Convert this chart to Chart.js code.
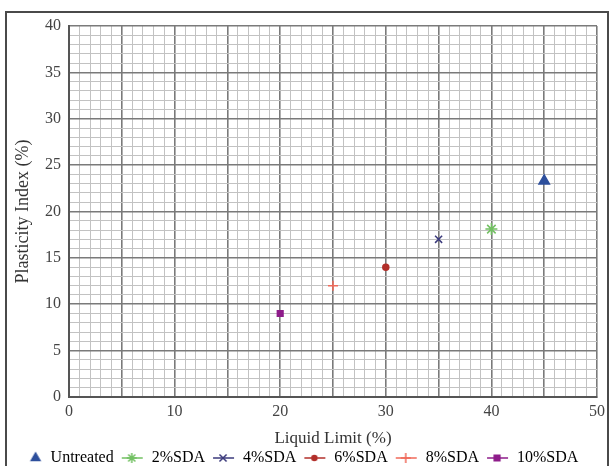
<!DOCTYPE html>
<html>
<head>
<meta charset="utf-8">
<script src="https://cdn.jsdelivr.net/npm/chart.js@4"></script>
<style>
  html, body { margin: 0; padding: 0; background: #fff; }
  #wrap { position: relative; width: 616px; height: 466px; overflow: hidden; }
  #frame { position: absolute; left: 5px; top: 11px; width: 604px; height: 470px; border: 2px solid #4a4a4a; box-sizing: border-box; pointer-events: none; }
  canvas { position: absolute; left: 0; top: 0; }
</style>
</head>
<body>
<div id="wrap">
  <canvas id="chart" width="616" height="466"></canvas>
  <div id="frame"></div>
</div>
<script>
// data
const seriesNames = ['Untreated', '2%SDA', '4%SDA', '6%SDA', '8%SDA', '10%SDA'];
const liquidLimit = [45, 40, 35, 30, 25, 20];
const plasticityIndex = [23.3, 18.1, 17.0, 14.0, 12.0, 9.0];
const xTickLabels = [0, 10, 20, 30, 40, 50];
const yTickLabels = [0, 5, 10, 15, 20, 25, 30, 35, 40];

const colors = ['#2d4f9c', '#72c062', '#3b3a7c', '#b22f2a', '#f06a5a', '#8e1c8a'];
const styles = ['triangle', 'star', 'crossRot', 'circle', 'cross', 'rect'];
const radii = [6, 6, 5, 3, 5, 4];
const withLine = [false, true, true, true, true, true];

const FONT = '"Liberation Serif", "DejaVu Serif", serif';
const ICON_W = 24;

// legend icons: short line + marker
function makeIcon(i) {
    const c = document.createElement('canvas');
    c.width = ICON_W; c.height = 16;
    const g = c.getContext('2d');
    g.strokeStyle = colors[i];
    g.fillStyle = colors[i];
    g.lineWidth = 1.5;
    if (withLine[i]) {
        g.beginPath(); g.moveTo(2, 8); g.lineTo(23, 8); g.stroke();
    }
    const r = styles[i] === 'circle' ? 2.5 : Math.min(radii[i], 5);
    Chart.helpers.drawPoint(g, { pointStyle: styles[i], radius: r, borderWidth: 1.5 }, withLine[i] ? 12 : 17, 8);
    return c;
}

const datasets = seriesNames.map((name, i) => ({
    label: name,
    data: [{ x: liquidLimit[i], y: plasticityIndex[i] }],
    pointStyle: styles[i],
    pointRadius: radii[i],
    pointBorderWidth: 1.5,
    backgroundColor: colors[i],
    borderColor: colors[i],
    showLine: false
}));

const gridColor = (ctx) => {
    const v = ctx.tick ? ctx.tick.value : 0;
    return v % 5 === 0 ? '#7a7a7a' : '#c2c2c2';
};
const gridWidth = (ctx) => {
    const v = ctx.tick ? ctx.tick.value : 0;
    return v % 5 === 0 ? 1.6 : 1;
};

new Chart(document.getElementById('chart').getContext('2d'), {
    type: 'scatter',
    data: { datasets },
    options: {
        responsive: false,
        animation: false,
        layout: { padding: { top: 26, right: 19, left: 0, bottom: -10 } },
        plugins: {
            tooltip: { enabled: false },
            legend: {
                position: 'bottom',
                labels: {
                    font: { family: FONT, size: 16 },
                    color: '#333',
                    usePointStyle: true,
                    pointStyleWidth: ICON_W,
                    padding: 6,
                    generateLabels: (chart) => seriesNames.map((name, i) => ({
                        text: name,
                        pointStyle: makeIcon(i),
                        datasetIndex: i,
                        fillStyle: colors[i],
                        strokeStyle: colors[i],
                        lineWidth: 0
                    }))
                }
            }
        },
        scales: {
            x: {
                type: 'linear', min: 0, max: 50,
                afterFit: (s) => { s.height = 47; },
                ticks: {
                    stepSize: 1, autoSkip: false, maxRotation: 0,
                    font: { family: FONT, size: 16 }, color: '#444', padding: 5,
                    callback: (v) => xTickLabels.includes(v) ? String(v) : ''
                },
                grid: { color: gridColor, lineWidth: gridWidth, drawTicks: false },
                border: { color: '#555', width: 2 },
                title: {
                    display: true, text: 'Liquid Limit (%)',
                    font: { family: FONT, size: 17, lineHeight: 0.6 }, color: '#333', padding: 0
                }
            },
            y: {
                type: 'linear', min: 0, max: 40,
                afterFit: (s) => { s.width = 69; },
                ticks: {
                    stepSize: 1, autoSkip: false,
                    font: { family: FONT, size: 16 }, color: '#444', padding: 8,
                    callback: (v) => yTickLabels.includes(v) ? String(v) : ''
                },
                grid: { color: gridColor, lineWidth: gridWidth, drawTicks: false },
                border: { color: '#555', width: 2 },
                title: {
                    display: true, text: 'Plasticity Index (%)',
                    font: { family: FONT, size: 18 }, color: '#333', padding: { top: 12, bottom: 0 }
                }
            }
        }
    }
});
</script>
</body>
</html>
